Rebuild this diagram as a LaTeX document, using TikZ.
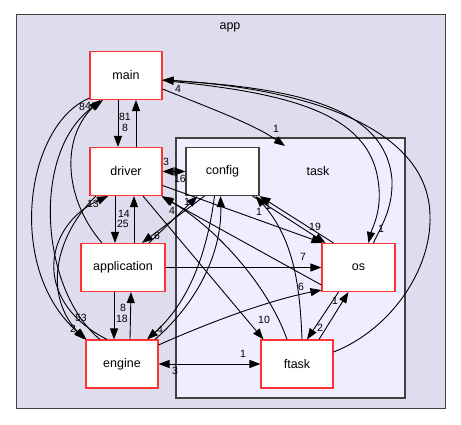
\documentclass[tikz,border=0pt]{standalone}
\usepackage{fontspec}
\setmainfont{Liberation Sans}
\usetikzlibrary{arrows.meta,calc}

\definecolor{appfill}{HTML}{DDDDEE}
\definecolor{taskfill}{HTML}{EEEEFF}
\definecolor{clborder}{HTML}{404040}
\definecolor{dirred}{HTML}{FF3333}

\tikzset{
  dirbox/.style={draw=dirred, fill=white, line width=1.1pt, inner sep=0pt,
    minimum width=72pt, minimum height=48pt,
    font=\fontsize{12.5}{14}\selectfont},
  plainbox/.style={dirbox, draw=clborder},
  dep/.style={draw=black, line width=0.9pt, -{Triangle[length=11pt,width=8pt]}},
  dep2/.style={draw=black, line width=0.9pt, {Triangle[length=11pt,width=8pt]}-{Triangle[length=11pt,width=8pt]}},
  cnt/.style={inner sep=0pt, font=\fontsize{10.5}{12}\selectfont},
  cltitle/.style={inner sep=0pt, font=\fontsize{12.5}{14}\selectfont}
}

\begin{document}
\begin{tikzpicture}[x=1pt, y=-1pt]
  \useasboundingbox (0,0) rectangle (461,425);

  % clusters
  \draw[clborder, fill=appfill, line width=1pt] (16,15) rectangle (445,408);
  \node[cltitle] (apptitle) at (230,27) {app};
  \draw[clborder, fill=taskfill, line width=1.2pt] (176,138) rectangle (405,398);
  \node[cltitle] (tasktitle) at (318,171) {task};
  \coordinate (taskin) at (285,146);

  % directories
  \node[dirbox] (main) at (126,75.5) {main};
  \node[dirbox] (driver) at (126,171.5) {driver};
  \node[plainbox, minimum width=73pt] (config) at (222.5,171.5) {config};
  \node[dirbox, minimum width=84pt] (application) at (123,267.5) {application};
  \node[dirbox] (engine) at (122,364) {engine};
  \node[dirbox, minimum width=73pt] (os) at (358.5,267.5) {os};
  \node[dirbox] (ftask) at (297,364) {ftask};

  % vertical pairs
  \draw[dep] ([xshift=-8pt]main.south) -- ([xshift=-8pt]driver.north);
  \draw[dep] ([xshift=10pt]driver.north) -- ([xshift=10pt]main.south);
  \draw[dep] ([xshift=-11pt]driver.south) -- ([xshift=-8pt]application.north);
  \draw[dep] ([xshift=11pt]application.north) -- ([xshift=8pt]driver.south);
  \draw[dep] ([xshift=-9pt]application.south) -- ([xshift=-8pt]engine.north);
  \draw[dep] ([xshift=8pt]engine.north) -- ([xshift=8pt]application.south);

  % horizontal links
  \draw[dep2] (driver.east) -- (config.west);
  \draw[dep] (application.east) -- (os.west);
  \draw[dep2] (engine.east) -- (ftask.west);

  % main to the task folder and back and forth with os / ftask
  \draw[dep] ([yshift=-13.5pt]main.east) .. controls (215,110) and (255,125) .. (taskin);
  \draw[dep] ([yshift=-5pt]main.east) .. controls (280,92) and (368,110) .. (378,180)
     .. controls (383,210) and (372,228) .. ([xshift=10pt]os.north);
  \draw[dep] ([xshift=15pt]os.north) .. controls (380,228) and (393,210) .. (392,180)
     .. controls (386,105) and (290,88) .. ([yshift=-4.5pt]main.east);
  \draw[dep] ([yshift=12pt]ftask.east) .. controls (390,330) and (432,270) .. (430,215)
     .. controls (428,125) and (300,88) .. ([yshift=-4.5pt]main.east);

  % left hand curves
  \draw[dep] ([yshift=2pt]main.south west) .. controls (25,125) and (5,270) .. ([xshift=1pt]engine.north west);
  \draw[dep] ([xshift=-22pt]engine.north) .. controls (40,290) and (30,150) .. ([xshift=-23pt]main.south);
  \draw[dep] ([xshift=-21pt]application.north) .. controls (65,200) and (60,140) .. ([xshift=-26pt]main.south);
  \draw[dep] ([xshift=-15pt]engine.north) .. controls (30,300) and (45,225) .. ([xshift=-18pt]driver.south);
  \draw[dep] ([xshift=-30pt]driver.south) .. controls (60,230) and (40,290) .. ([xshift=-1pt]engine.north west);

  % config links
  \draw[dep] ([xshift=-18pt]config.south) -- ([xshift=19pt]application.north);
  \draw[dep] ([xshift=26pt]application.north) -- ([xshift=-25pt]config.south);
  \draw[dep] ([xshift=-8pt]config.south) .. controls (205,270) and (180,310) .. ([xshift=25pt]engine.north);
  \draw[dep] ([xshift=33pt]engine.north) .. controls (200,300) and (222,250) .. ([xshift=-2pt]config.south);
  \draw[dep] ([xshift=30pt]config.south) -- ([xshift=4pt]os.north west);
  \draw[dep] ([xshift=-25pt]os.north) -- (config.south east);
  \draw[dep] ([xshift=5pt]ftask.north) .. controls (300,290) and (295,240) .. ([xshift=-4pt]config.south east);

  % driver links across the task folder
  \draw[dep] ([yshift=-14pt]driver.east) -- ([xshift=1pt]os.north west);
  \draw[dep] ([yshift=-17.5pt]os.west) -- ([yshift=-1pt]driver.south east);
  \draw[dep] ([xshift=-10pt]ftask.north) .. controls (270,290) and (220,230) .. ([xshift=-1pt]driver.south east);
  \draw[dep] ([xshift=17pt]driver.south) -- ([xshift=3pt]ftask.north west);

  % engine, ftask and os
  \draw[dep] ([yshift=19pt]engine.east) .. controls (210,322) and (270,300) .. ([yshift=2pt]os.south west);
  \draw[dep] ([xshift=-20pt]os.south) -- ([xshift=10pt]ftask.north);
  \draw[dep] ([xshift=22pt]ftask.north) -- ([xshift=-10pt]os.south);

  % dependency counts
  \node[cnt] (c81) at (125,117) {81};
  \node[cnt] (c8a) at (125,128) {8};
  \node[cnt] (c8b) at (82,107) {8};
  \node[cnt] (c4a) at (88,106) {4};
  \node[cnt] (c4b) at (178,89) {4};
  \node[cnt] (c1a) at (276,129) {1};
  \node[cnt] (c1b) at (381,229) {1};
  \node[cnt] (c3a) at (166,162) {3};
  \node[cnt] (c16) at (180,179) {16};
  \node[cnt] (c13) at (93,204) {13};
  \node[cnt] (c14) at (124,214) {14};
  \node[cnt] (c25) at (123,224) {25};
  \node[cnt] (c6a) at (157,236) {6};
  \node[cnt] (c4d) at (172,211) {4};
  \node[cnt] (c1c) at (187,202) {1};
  \node[cnt] (c19) at (315,227) {19};
  \node[cnt] (c1d) at (259,212) {1};
  \node[cnt] (c1e) at (268,206) {1};
  \node[cnt] (c7) at (303,257) {7};
  \node[cnt] (c6b) at (301,287) {6};
  \node[cnt] (c10) at (264,320) {10};
  \node[cnt] (c1f) at (335,301) {1};
  \node[cnt] (c2a) at (320,328) {2};
  \node[cnt] (c1g) at (243,354) {1};
  \node[cnt] (c3b) at (175,371) {3};
  \node[cnt] (c4e) at (160,330) {4};
  \node[cnt] (c8c) at (123,308) {8};
  \node[cnt] (c18) at (122,319) {18};
  \node[cnt] (c53) at (81,318) {53};
  \node[cnt] (c2b) at (73,329) {2};
\end{tikzpicture}
\end{document}
